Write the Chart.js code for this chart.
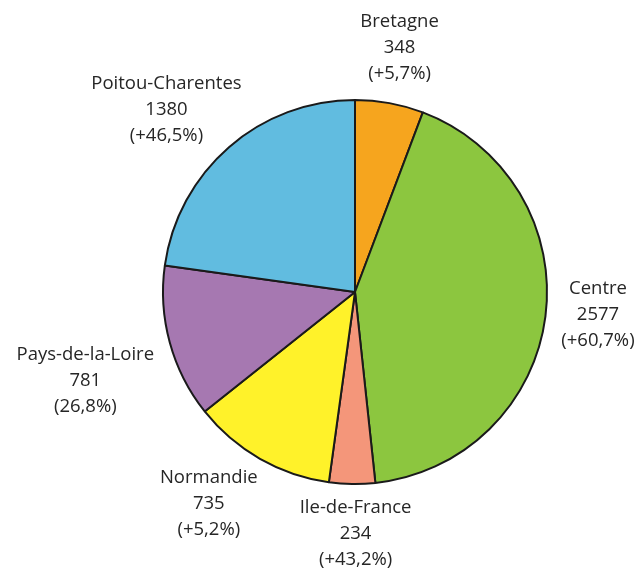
<!DOCTYPE html>
<html>
<head>
<meta charset="utf-8">
<script src="https://cdn.jsdelivr.net/npm/chart.js@4.4.1/dist/chart.umd.min.js"></script>
<style>
  html, body { margin: 0; padding: 0; background: #fff; }
  #wrap { width: 641px; height: 570px; }
</style>
</head>
<body>
<div id="wrap"><canvas id="pieChart" width="641" height="570"></canvas></div>
<script>
// Regions, clockwise from the top
const regions = ["Bretagne", "Centre", "Ile-de-France", "Normandie", "Pays-de-la-Loire", "Poitou-Charentes"];
const counts = [348, 2577, 234, 735, 781, 1380];
const changes = ["(+5,7%)", "(+60,7%)", "(+43,2%)", "(+5,2%)", "(26,8%)", "(+46,5%)"];
const sliceColors = ["#f6a51e", "#8cc63f", "#f4967a", "#fff22a", "#a678b1", "#61bce0"];

// label placement: distance from the centre and small angle nudges (degrees)
const labelDist = [248, 244, 242, 257, 284, 262];
const labelNudge = [0, -2, -1, 5, -3, -5];

const outsideLabels = {
    id: "outsideLabels",
    afterDatasetsDraw(chart) {
        const ctx = chart.ctx;
        const arcs = chart.getDatasetMeta(0).data;
        ctx.save();
        ctx.font = "18.5px 'Open Sans'";
        ctx.fillStyle = "#262626";
        ctx.textAlign = "center";
        ctx.textBaseline = "middle";
        arcs.forEach((arc, i) => {
            const mid = (arc.startAngle + arc.endAngle) / 2 + labelNudge[i] * Math.PI / 180;
            const x = arc.x + Math.cos(mid) * labelDist[i];
            const y = arc.y + Math.sin(mid) * labelDist[i];
            const lines = [regions[i], String(counts[i]), changes[i]];
            lines.forEach((t, k) => {
                ctx.fillText(t, x, y + (k - 1) * 26);
            });
        });
        ctx.restore();
    }
};

const ctx = document.getElementById("pieChart").getContext("2d");

new Chart(ctx, {
    type: "pie",
    data: {
        labels: regions,
        datasets: [{
            data: counts,
            backgroundColor: sliceColors,
            borderColor: "#1a1a1a",
            borderWidth: 2
        }]
    },
    options: {
        responsive: false,
        animation: false,
        layout: {
            padding: { left: 162, right: 93, top: 99, bottom: 85 }
        },
        plugins: {
            legend: { display: false },
            tooltip: { enabled: false }
        }
    },
    plugins: [outsideLabels]
});
</script>
</body>
</html>
